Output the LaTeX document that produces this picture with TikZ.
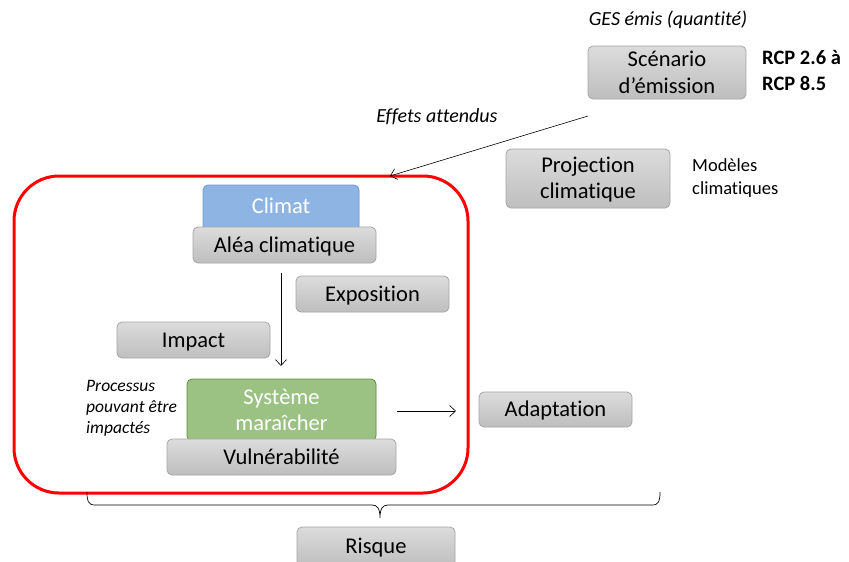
\documentclass[tikz,border=0pt]{standalone}
\usepackage{fontspec}
\setmainfont{Carlito}[Ligatures={NoCommon}]
\usetikzlibrary{arrows.meta}
\definecolor{boxtop}{HTML}{DCDCDC}
\definecolor{boxbot}{HTML}{BEBEBE}
\definecolor{boxline}{HTML}{A6A6A6}
\definecolor{climfill}{HTML}{8DB4E2}
\definecolor{climline}{HTML}{6F9CD0}
\definecolor{sysfill}{HTML}{9BC283}
\definecolor{sysline}{HTML}{5E8E3E}
\tikzset{
  gbox/.style={draw=boxline, line width=0.8pt, rounded corners=5pt, top color=boxtop, bottom color=boxbot, inner sep=0pt, align=center, font=\fontsize{22.5}{26.5}\selectfont, text=black},
  onel/.style={text height=17.5pt, text depth=3pt},
  cbox/.style={gbox, fill=climfill, top color=climfill, bottom color=climfill, draw=climline, text=white},
  sbox/.style={gbox, fill=sysfill, top color=sysfill, bottom color=sysfill, draw=sysline, text=white},
  itl/.style={font=\fontsize{20}{21}\selectfont\itshape, inner sep=0pt},
  lbl/.style={font=\fontsize{18.5}{23}\selectfont, inner sep=0pt, align=left},
  conn/.style={line width=0.6pt, -{Straight Barb[length=6pt,width=11pt]}},
  redframe/.style={draw=red, line width=3pt, rounded corners=45pt}
}
\begin{document}
\begin{tikzpicture}[x=1pt,y=-1pt]
\clip (0,0) rectangle (849,562);
\useasboundingbox (0,0) rectangle (849,562);
\fill[white] (0,0) rectangle (849,562);

% top right
\node[itl] (ges) at (668,20) {GES émis (quantité)};
\node[gbox, minimum width=158pt, minimum height=53pt] (scen) at (667,72.5) {Scénario\\d’émission};
\node[lbl, font=\fontsize{20.5}{26}\selectfont\bfseries, anchor=west] (rcp) at (762,70) {RCP 2.6 à\\RCP 8.5};
\node[gbox, minimum width=164pt, minimum height=59pt, text depth=1pt] (proj) at (588,178.5) {Projection\\climatique};
\node[lbl, anchor=west] (mod) at (692,178.5) {Modèles\\climatiques};
\node[itl] (eff) at (437,117) {Effets attendus};

% red frame
\draw[redframe] (14,176) rectangle (468,493);

% inner boxes
\node[cbox, minimum width=156pt, minimum height=47pt, text depth=6pt] (clim) at (281,208.5) {Climat};
\node[gbox, onel, minimum width=183pt, minimum height=36pt] (alea) at (284.5,245) {Aléa climatique};
\node[gbox, onel, minimum width=153pt, minimum height=36pt] (expo) at (372.5,294) {Exposition};
\node[gbox, onel, minimum width=153pt, minimum height=36pt] (imp) at (193.5,340) {Impact};
\node[sbox, minimum width=189pt, minimum height=62pt] (sys) at (281.5,410) {Système\\maraîcher};
\node[gbox, onel, minimum width=229pt, minimum height=36pt] (vuln) at (281.5,457) {Vulnérabilité};
\node[itl, font=\fontsize{17.5}{21}\selectfont\itshape, anchor=west, align=left] (proc) at (86,408) {Processus\\pouvant être\\impactés};

\node[gbox, onel, minimum width=153pt, minimum height=35pt] (adapt) at (555.5,409.5) {Adaptation};
\node[gbox, minimum width=158pt, minimum height=40pt, text depth=2pt] (risk) at (376,547) {Risque};

% connectors
\coordinate (effA) at (588,116);
\coordinate (effB) at (390,176);
\draw[conn] (effA) -- (effB);
\coordinate (vA) at (281,273);
\coordinate (vB) at (281,366);
\draw[conn] (vA) -- (vB);
\coordinate (hA) at (397,411);
\coordinate (hB) at (456,411);
\draw[conn] (hA) -- (hB);

% brace
\draw[line width=0.7pt] (87,492) .. controls (87,501) and (88,505) .. (95,505) -- (372,505)
  .. controls (377,505) and (380,508) .. (380,518)
  .. controls (380,508) and (383,505) .. (388,505) -- (652,505)
  .. controls (659,505) and (660,501) .. (660,492);
\end{tikzpicture}
\end{document}
